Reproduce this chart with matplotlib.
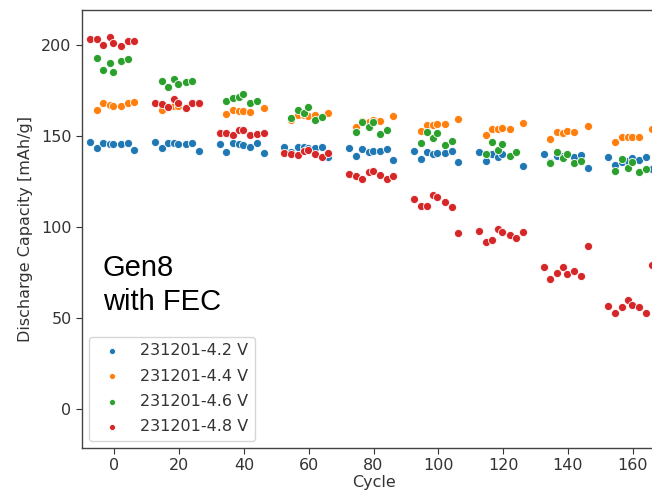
import matplotlib
matplotlib.use("Agg")
import matplotlib.pyplot as plt

# cycle numbers (shared by the 4.2 V and 4.8 V cells)
cycles_all = [
    -7.5, -5.4, -3.4, -1.5, -0.3, 2.0, 4.1, 6.1,
    12.5, 14.6, 16.6, 18.5, 19.7, 22.0, 24.1, 26.1,
    32.5, 34.6, 36.6, 38.5, 39.7, 42.0, 44.1, 46.1,
    52.5, 54.6, 56.6, 58.5, 59.7, 62.0, 64.1, 66.1,
    72.5, 74.6, 76.6, 78.5, 79.7, 82.0, 84.1, 86.1,
    92.5, 94.6, 96.6, 98.5, 99.7, 102.0, 104.1, 106.1,
    112.5, 114.6, 116.6, 118.5, 119.7, 122.0, 124.1, 126.1,
    132.5, 134.6, 136.6, 138.5, 139.7, 142.0, 144.1, 146.1,
    152.5, 154.6, 156.6, 158.5, 159.7, 162.0, 164.1, 166.1,
]

cycles_orange = [
    -5.4, -3.4, -1.5, -0.3, 2.0, 4.1, 6.1,
    14.6, 16.6, 18.5, 19.7, 22.0, 26.1,
    34.6, 36.6, 38.5, 39.7, 42.0, 46.1,
    54.6, 56.6, 58.5, 59.7, 62.0, 66.1,
    74.6, 76.6, 78.5, 79.7, 82.0, 86.1,
    94.6, 96.6, 98.5, 99.7, 102.0, 106.1,
    114.6, 116.6, 118.5, 119.7, 122.0, 126.1,
    134.6, 136.6, 138.5, 139.7, 142.0, 146.1,
    154.6, 156.6, 158.5, 159.7, 162.0, 166.1,
]

cycles_green = [
    -5.4, -3.4, -1.5, -0.3, 2.0, 4.1,
    14.6, 16.6, 18.5, 19.7, 22.0, 24.1,
    34.6, 36.6, 38.5, 39.7, 42.0, 44.1,
    54.6, 56.6, 58.5, 59.7, 62.0, 64.1,
    74.6, 76.6, 78.5, 79.7, 82.0, 84.1,
    94.6, 96.6, 98.5, 99.7, 102.0, 104.1,
    114.6, 116.6, 118.5, 119.7, 122.0, 124.1,
    134.6, 136.6, 138.5, 139.7, 142.0, 144.1,
    154.6, 156.6, 158.5, 159.7, 162.0, 164.1,
]

cap_42 = [
    146.9, 143.2, 146.0, 145.4, 145.4, 145.4, 146.0, 142.3,
    146.9, 143.2, 146.0, 146.0, 145.4, 145.4, 146.0, 142.0,
    145.6, 141.4, 146.0, 145.4, 145.1, 144.1, 146.0, 140.5,
    143.8, 141.0, 143.8, 143.8, 143.2, 143.2, 144.1, 138.6,
    143.6, 139.0, 142.9, 141.4, 142.0, 142.0, 142.9, 136.8,
    142.0, 137.4, 141.4, 140.0, 140.8, 140.5, 142.0, 135.5,
    141.0, 136.3, 140.0, 138.6, 140.0, 139.2, 141.4, 133.7,
    140.1, 136.0, 139.0, 139.0, 140.0, 138.3, 139.6, 132.4,
    138.6, 134.0, 136.0, 136.4, 138.1, 136.8, 138.6, 132.0,
]

cap_44 = [
    164.3, 168.0, 167.0, 166.7, 166.7, 168.0, 168.8,
    164.3, 165.8, 166.5, 166.5, 166.0, 167.5,
    161.9, 164.3, 163.7, 163.7, 163.4, 165.2,
    158.8, 161.5, 161.5, 161.0, 161.5, 162.8,
    155.1, 158.2, 157.9, 158.8, 158.2, 161.0,
    152.7, 156.0, 156.0, 156.4, 156.4, 159.2,
    150.5, 153.8, 153.8, 154.2, 153.8, 157.3,
    148.4, 152.0, 151.5, 152.7, 152.0, 155.7,
    146.5, 149.6, 149.6, 149.6, 149.6, 153.8,
]

cap_46 = [
    192.7, 186.3, 190.3, 185.3, 191.2, 192.1,
    180.4, 177.1, 181.2, 178.6, 179.9, 180.4,
    169.4, 170.7, 171.6, 172.9, 168.3, 169.4,
    159.7, 164.3, 162.4, 165.8, 158.8, 160.3,
    152.4, 157.9, 155.1, 157.9, 150.9, 153.3,
    146.0, 152.4, 148.7, 151.5, 145.1, 147.3,
    140.1, 146.9, 142.3, 145.4, 139.2, 141.4,
    135.3, 141.4, 137.7, 140.0, 135.0, 136.3,
    130.8, 137.4, 132.2, 135.5, 130.1, 131.7,
]

cap_48 = [
    203.1, 203.1, 200.0, 204.2, 201.3, 199.5, 202.4, 202.4,
    168.3, 167.6, 165.8, 170.3, 168.3, 165.2, 168.3, 168.0,
    151.5, 151.5, 150.5, 153.3, 153.3, 150.5, 151.1, 151.5,
    140.8, 140.1, 139.6, 141.9, 142.3, 140.1, 138.6, 140.8,
    129.1, 128.0, 126.4, 130.1, 130.8, 128.6, 126.2, 128.0,
    115.4, 111.7, 111.7, 117.6, 116.7, 113.6, 110.8, 96.9,
    98.0, 91.6, 92.9, 98.9, 97.4, 95.6, 93.8, 97.4,
    77.9, 71.4, 74.5, 77.9, 74.0, 76.0, 73.2, 89.6,
    56.8, 52.6, 56.2, 59.9, 57.1, 56.2, 52.6, 79.1,
]

labels = ["231201-4.2 V", "231201-4.4 V", "231201-4.6 V", "231201-4.8 V"]
colors = ["#1f77b4", "#ff7f0e", "#2ca02c", "#d62728"]

series = [
    (cycles_all, cap_42),
    (cycles_orange, cap_44),
    (cycles_green, cap_46),
    (cycles_all, cap_48),
]

fig = plt.figure(figsize=(6.52, 4.95), dpi=100)
ax = fig.add_axes([0.1258, 0.0949, 0.8966, 0.8848])

for (x, y), lab, col in zip(series, labels, colors):
    ax.scatter(x, y, s=34, c=col, edgecolors="white", linewidths=0.6,
               label=lab, zorder=3)

ax.set_xlim(-10, 170.5)
ax.set_ylim(-21.4, 219.2)
ax.set_xticks(range(0, 161, 20))
ax.set_yticks(range(0, 201, 50))
ax.tick_params(labelsize=11.5, colors="#333333", length=4)
for sp in ax.spines.values():
    sp.set_color("#444444")
    sp.set_linewidth(1.0)

ax.set_xlabel("Cycle", fontsize=11.5, color="#333333", labelpad=1)
ax.set_ylabel("Discharge Capacity [mAh/g]", fontsize=11.5, color="#333333",
              labelpad=6)

leg = ax.legend(loc="lower left", fontsize=11.5, markerscale=0.75,
                borderaxespad=0.45, labelspacing=0.65, framealpha=0.8)
leg.get_frame().set_edgecolor("#cccccc")
for t in leg.get_texts():
    t.set_color("#333333")

# annotation drawn on top of the chart
fig.text(103 / 652, 1 - 310 / 495, "Gen8\nwith FEC", fontsize=21,
         family="Liberation Sans", va="baseline", ha="left", linespacing=1.25)

fig.savefig("out.png", dpi=100)
